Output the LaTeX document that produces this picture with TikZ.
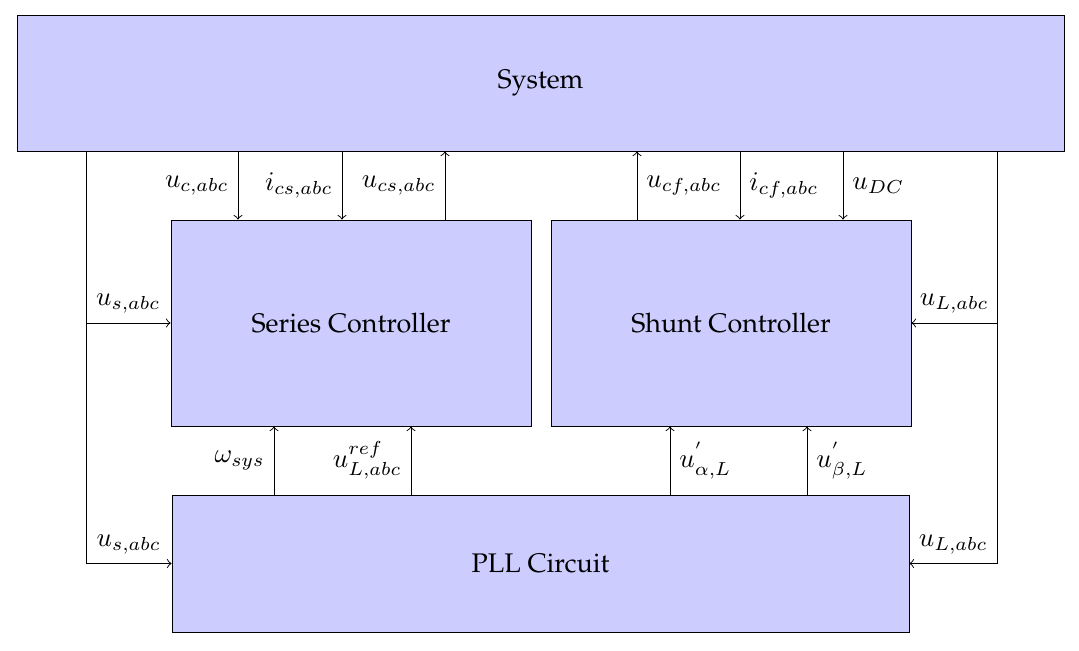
\documentclass[tikz,border=0pt]{standalone}
\usepackage[T1]{fontenc}
\usepackage{palatino}
\def\pxu{0.3715pt}
\tikzset{
  blk/.style={draw, fill=blue!20, inner sep=0pt, anchor=center},
  sig/.style={->},
}
\begin{document}
\begin{tikzpicture}[x=0.3715pt, y=-0.3715pt, line width=0.35pt]
\useasboundingbox (0,0) rectangle (1079,650);
\node[blk, minimum width={1047*\pxu}, minimum height={136*\pxu}] (sys) at (540.5,83) {System};
\node[blk, minimum width={360*\pxu}, minimum height={206*\pxu}] (ser) at (351,323) {Series Controller};
\node[blk, minimum width={360*\pxu}, minimum height={206*\pxu}] (shu) at (731,323) {Shunt Controller};
\node[blk, minimum width={737*\pxu}, minimum height={137*\pxu}] (pll) at (540.5,563.5) {PLL Circuit};

% top connections
\draw[sig] (sys.south -| 238,0) -- node[left] {$u_{c,abc}$} (ser.north -| 238,0);
\draw[sig] (sys.south -| 342,0) -- node[left] {$i_{cs,abc}$} (ser.north -| 342,0);
\draw[sig] (ser.north -| 445,0) -- node[left] {$u_{cs,abc}$} (sys.south -| 445,0);
\draw[sig] (shu.north -| 637,0) -- node[right] {$u_{cf,abc}$} (sys.south -| 637,0);
\draw[sig] (sys.south -| 740,0) -- node[right] {$i_{cf,abc}$} (shu.north -| 740,0);
\draw[sig] (sys.south -| 843,0) -- node[right] {$u_{DC}$} (shu.north -| 843,0);

% left bus
\coordinate (L1) at (86,323);
\coordinate (L2) at (86,563.5);
\draw (sys.south -| L1) -- (L2);
\draw[sig] (L1) -- node[above] {$u_{s,abc}$} (ser.west);
\draw[sig] (L2) -- node[above] {$u_{s,abc}$} (pll.west);

% right bus
\coordinate (R1) at (997,323);
\coordinate (R2) at (997,563.5);
\draw (sys.south -| R1) -- (R2);
\draw[sig] (R1) -- node[above] {$u_{L,abc}$} (shu.east);
\draw[sig] (R2) -- node[above] {$u_{L,abc}$} (pll.east);

% bottom connections
\draw[sig] (pll.north -| 274,0) -- node[left] {$\omega_{sys}$} (ser.south -| 274,0);
\draw[sig] (pll.north -| 411,0) -- node[left] {$u^{ref}_{L,abc}$} (ser.south -| 411,0);
\draw[sig] (pll.north -| 670,0) -- node[right] {$u^{'}_{\alpha,L}$} (shu.south -| 670,0);
\draw[sig] (pll.north -| 807,0) -- node[right] {$u^{'}_{\beta,L}$} (shu.south -| 807,0);
\end{tikzpicture}
\end{document}
